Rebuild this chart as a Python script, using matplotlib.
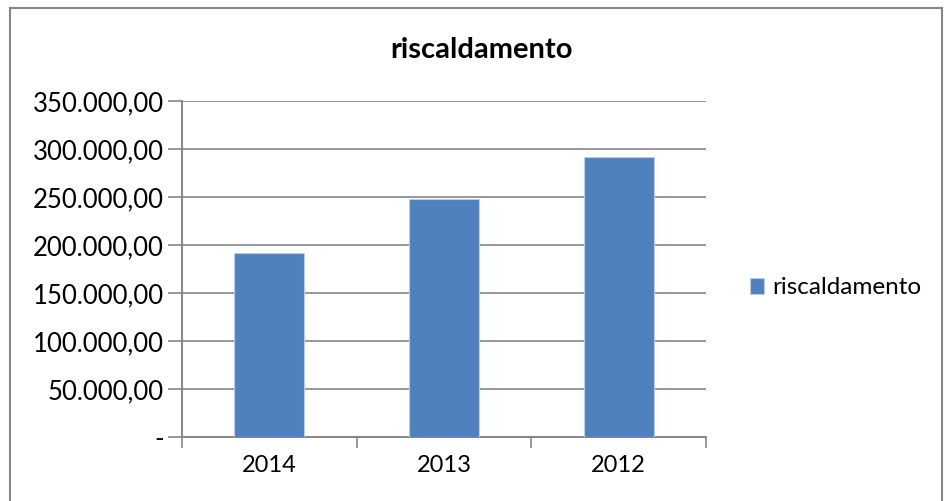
import numpy as np
import matplotlib.pyplot as plt
from matplotlib.patches import Rectangle
from matplotlib.ticker import FuncFormatter

plt.rcParams['font.family'] = ['Lato', 'DejaVu Sans']

years = ['2014', '2013', '2012']
valori = [192000, 248000, 292000]
serie = 'riscaldamento'

def fmt(v, pos):
    if v == 0:
        return '-'
    s = '{:,.2f}'.format(v)
    return s.replace(',', 'X').replace('.', ',').replace('X', '.')

fig = plt.figure(figsize=(9.44, 5.01), dpi=100)
ax = fig.add_axes([182/944, 64/501, 524/944, 336/501])

x = np.arange(len(years))
ax.bar(x, valori, width=0.4, color='#4F81BD', edgecolor='#B9CDE5', linewidth=0.8,
       label=serie, zorder=3)

ax.set_xlim(-0.5, 2.5)
ax.set_ylim(0, 350000)
ax.set_yticks(np.arange(0, 350001, 50000))
ax.yaxis.set_major_formatter(FuncFormatter(fmt))
ax.grid(axis='y', color='#868686', linewidth=1.2, zorder=0)
ax.set_xticks(x)
ax.set_xticklabels(years)
ax.set_xticks([-0.5, 0.5, 1.5, 2.5], minor=True)
ax.tick_params(axis='x', which='major', length=0, labelsize=17, pad=13)
ax.tick_params(axis='x', which='minor', length=8, color='#868686', width=1.2)
ax.tick_params(axis='y', length=10, color='#868686', width=1.2, labelsize=18.5, pad=3)
for s in ['top', 'right']:
    ax.spines[s].set_visible(False)
for s in ['left', 'bottom']:
    ax.spines[s].set_color('#868686')
    ax.spines[s].set_linewidth(1.4)

fig.text(481/944, 1 - 50/501, serie, ha='center', va='center', fontsize=21, fontweight='bold')

ax.legend(loc='center left', bbox_to_anchor=(728/944, 1 - 288/501), bbox_transform=fig.transFigure,
          frameon=False, fontsize=17.5, handlelength=0.6, handleheight=0.6, handletextpad=0.3)

fig.patches.append(Rectangle((10/944, -0.1), 932/944, 1 - 8/501 + 0.1, transform=fig.transFigure,
                             fill=False, edgecolor='#868686', linewidth=1.5))

fig.savefig('out.png', dpi=100)
